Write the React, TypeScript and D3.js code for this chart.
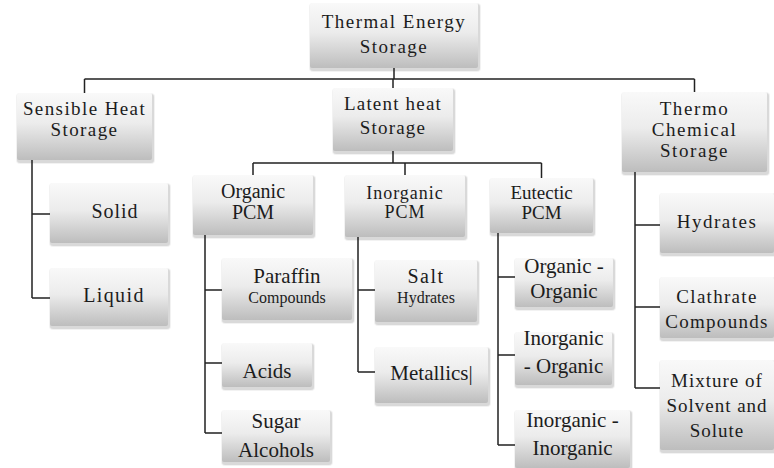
import React from 'react';
import * as d3 from 'd3';

// ------- Tree content -------
const rootLabel = ['Thermal Energy', 'Storage'];
const storageTypes = [['Sensible Heat', 'Storage'], ['Latent heat', 'Storage'], ['Thermo', 'Chemical', 'Storage']];
const sensibleForms = [['Solid'], ['Liquid']];
const pcmClasses = [['Organic', 'PCM'], ['Inorganic', 'PCM'], ['Eutectic', 'PCM']];
const organicPcms = [['Paraffin', 'Compounds'], ['Acids'], ['Sugar', 'Alcohols']];
const inorganicPcms = [['Salt', 'Hydrates'], ['Metallics']];
const eutecticPcms = [['Organic -', 'Organic'], ['Inorganic', '- Organic'], ['Inorganic -', 'Inorganic']];
const thermoChemical = [['Hydrates'], ['Clathrate', 'Compounds'], ['Mixture of', 'Solvent and', 'Solute']];

type Node = { lines: string[]; children?: Node[] };
const leaf = (l: string[]): Node => ({ lines: l });
const pcmChildren = [organicPcms, inorganicPcms, eutecticPcms];

const tree: Node = {
  lines: rootLabel,
  children: [
    { lines: storageTypes[0], children: sensibleForms.map(leaf) },
    {
      lines: storageTypes[1],
      children: pcmClasses.map((l, i) => ({ lines: l, children: pcmChildren[i].map(leaf) })),
    },
    { lines: storageTypes[2], children: thermoChemical.map(leaf) },
  ],
};

// ------- Layout (positions / styles) -------
type Box = {
  x: number; y: number; w: number; h: number;
  b: number; lh?: number; ty?: number;
  fs: number | number[]; ls?: number | number[]; dx?: number; caret?: boolean;
};
const layout: Record<string, Box> = {
  'Thermal Energy Storage': { x: 310, y: 3, w: 168, h: 65, b: 25, lh: 25, fs: 19, ls: 1.5 },
  'Sensible Heat Storage': { x: 17, y: 93, w: 135, h: 67, b: 22, lh: 21, fs: 19, ls: 1.4 },
  'Latent heat Storage': { x: 333, y: 88, w: 120, h: 63, b: 22, lh: 24, fs: 19, ls: 1.2 },
  'Thermo Chemical Storage': { x: 622, y: 92, w: 145, h: 80, b: 23, lh: 21, fs: 19, ls: 1.6 },
  'Solid': { x: 50, y: 183, w: 118, h: 60, b: 35, ty: 31, fs: 20, ls: 1, dx: 6 },
  'Liquid': { x: 50, y: 268, w: 118, h: 58, b: 34, ty: 30, fs: 20, ls: 1.4, dx: 5 },
  'Organic PCM': { x: 193, y: 175, w: 120, h: 60, b: 23, lh: 21, fs: 20 },
  'Inorganic PCM': { x: 345, y: 175, w: 120, h: 62, b: 24, lh: 19, fs: 18, ls: 1 },
  'Eutectic PCM': { x: 490, y: 178, w: 103, h: 55, b: 21, lh: 20, fs: 19 },
  'Paraffin Compounds': { x: 222, y: 258, w: 130, h: 62, b: 25, lh: 20, fs: [21, 16], ty: 32 },
  'Acids': { x: 222, y: 343, w: 90, h: 44, b: 35, ty: 20, fs: 21 },
  'Sugar Alcohols': { x: 222, y: 410, w: 108, h: 52, b: 18, lh: 29, fs: 21, ty: 23 },
  'Salt Hydrates': { x: 375, y: 260, w: 102, h: 62, b: 23, lh: 20, fs: [20, 16], ls: [1.5, 0], ty: 30 },
  'Metallics': { x: 375, y: 347, w: 113, h: 56, b: 33, fs: 21, ty: 25, caret: true },
  'Organic - Organic': { x: 515, y: 258, w: 98, h: 49, b: 15, lh: 25, fs: 21, ty: 19 },
  'Inorganic - Organic': { x: 515, y: 332, w: 97, h: 53, b: 13, lh: 28, fs: 21, ty: 23 },
  'Inorganic - Inorganic': { x: 515, y: 410, w: 115, h: 58, b: 17, lh: 28, fs: 21, ty: 35 },
  'Hydrates': { x: 660, y: 193, w: 114, h: 60, b: 35, fs: 19, ls: 1.5, ty: 32 },
  'Clathrate Compounds': { x: 660, y: 277, w: 114, h: 61, b: 26, lh: 25, fs: 19, ls: 1.3, ty: 30 },
  'Mixture of Solvent and Solute': { x: 660, y: 360, w: 114, h: 90, b: 27, lh: 25, fs: 19, ls: 1, ty: 28 },
};
// bus = horizontal bar under parent, rail = vertical bar on left side
const busY: Record<string, number> = { 'Thermal Energy Storage': 79, 'Latent heat Storage': 163 };
const railX: Record<string, number> = {
  'Sensible Heat Storage': 32,
  'Organic PCM': 205,
  'Inorganic PCM': 358,
  'Eutectic PCM': 498,
  'Thermo Chemical Storage': 635,
};

const FONT = '"Liberation Serif"';
const pick = (v: number | number[] | undefined, i: number, d: number) =>
  v == null ? d : Array.isArray(v) ? v[i] ?? v[v.length - 1] : v;

export default function App() {
  const width = 774;
  const height = 468;
  const root = d3.hierarchy<Node>(tree);
  const key = (n: d3.HierarchyNode<Node>) => n.data.lines.join(' ');
  const nodes = root.descendants();
  const parents = nodes.filter((n) => n.children);

  const linkPaths: string[] = [];
  parents.forEach((p) => {
    const pb = layout[key(p)];
    const kids = p.children!;
    const path = d3.path();
    if (busY[key(p)] != null) {
      const by = busY[key(p)];
      path.moveTo(pb.x + pb.w / 2, pb.y + pb.h);
      path.lineTo(pb.x + pb.w / 2, by);
      const xs = kids.map((c) => layout[key(c)].x + layout[key(c)].w / 2);
      path.moveTo(d3.min(xs)!, by);
      path.lineTo(d3.max(xs)!, by);
      kids.forEach((c, i) => {
        path.moveTo(xs[i], by);
        path.lineTo(xs[i], layout[key(c)].y);
      });
    } else {
      const rx = railX[key(p)];
      const ys = kids.map((c) => layout[key(c)].y + (layout[key(c)].ty ?? layout[key(c)].h / 2));
      path.moveTo(rx, pb.y + pb.h);
      path.lineTo(rx, d3.max(ys)!);
      kids.forEach((c, i) => {
        path.moveTo(rx, ys[i]);
        path.lineTo(layout[key(c)].x, ys[i]);
      });
    }
    linkPaths.push(path.toString());
  });

  const labels = nodes.flatMap((n) => {
    const b = layout[key(n)];
    const cx = b.x + b.w / 2 + (b.dx ?? 0);
    return n.data.lines.map((line, i) => ({
      id: key(n) + i,
      text: line + (b.caret ? '|' : ''),
      x: cx,
      y: b.y + b.b + i * (b.lh ?? 0),
      fs: pick(b.fs, i, 19),
      ls: pick(b.ls, i, 0),
    }));
  });

  return (
    <svg
      width={width}
      height={height}
      viewBox={`0 0 ${width} ${height}`}
      style={{ position: 'absolute', left: 0, top: 0, background: '#fff' }}
    >
      <defs>
        <linearGradient id="boxFill" x1="0" y1="0" x2="0" y2="1">
          <stop offset="0" stopColor="#f9f9f9" />
          <stop offset="0.45" stopColor="#ececec" />
          <stop offset="1" stopColor="#bdbdbd" />
        </linearGradient>
      </defs>

      {/* ------- Box shadows (layered offsets, no filter) ------- */}
      {nodes.map((n) => {
        const b = layout[key(n)];
        return (
          <g key={'s' + key(n)}>
            <rect x={b.x - 1} y={b.y} width={b.w + 4} height={b.h + 4} rx={4} fill="#000" opacity={0.05} />
            <rect x={b.x} y={b.y + 1} width={b.w + 2} height={b.h + 2} rx={3} fill="#000" opacity={0.1} />
          </g>
        );
      })}

      {/* ------- Boxes ------- */}
      {nodes.map((n) => {
        const b = layout[key(n)];
        return <rect key={'r' + key(n)} x={b.x} y={b.y} width={b.w} height={b.h} rx={2} fill="url(#boxFill)" />;
      })}

      {/* ------- Connectors ------- */}
      {linkPaths.map((d, i) => (
        <path key={'l' + i} d={d} fill="none" stroke="#222" strokeWidth={1.5} />
      ))}

      {/* ------- Labels ------- */}
      {labels.map((l) => (
        <text
          key={l.id}
          x={l.x}
          y={l.y}
          fontSize={l.fs}
          style={{ fontFamily: FONT, letterSpacing: l.ls + 'px' }}
          textAnchor="middle"
          fill="#1c1c1c"
        >
          {l.text}
        </text>
      ))}
    </svg>
  );
}
